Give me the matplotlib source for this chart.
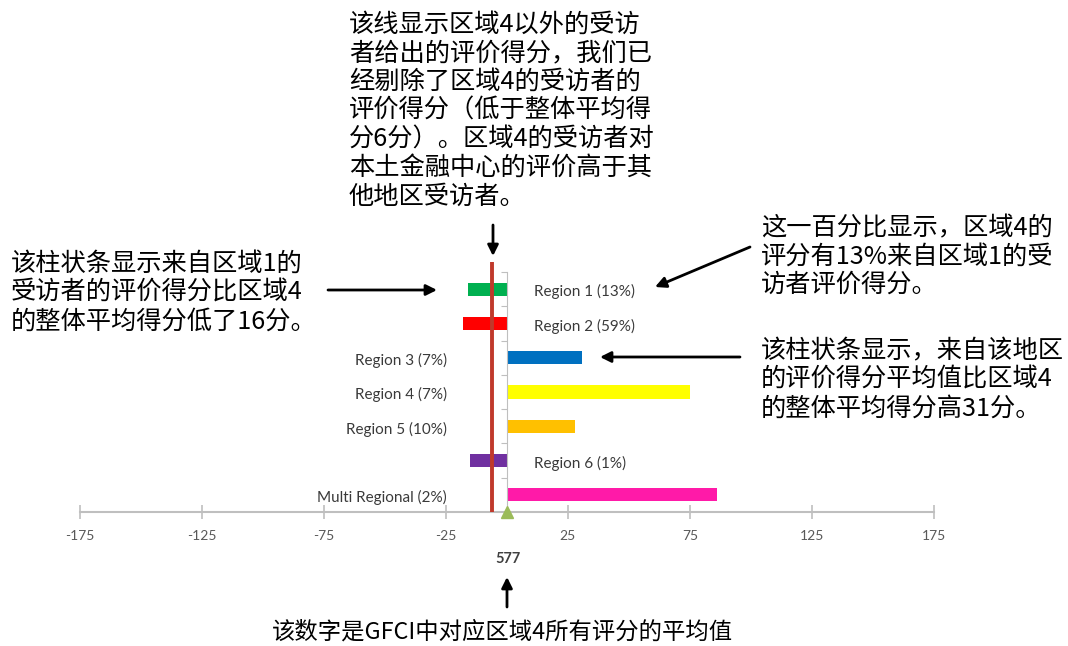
import matplotlib
matplotlib.use('Agg')
import matplotlib.pyplot as plt

# chart data
regions = ['Region 1 (13%)', 'Region 2 (59%)', 'Region 3 (7%)', 'Region 4 (7%)',
           'Region 5 (10%)', 'Region 6 (1%)', 'Multi Regional (2%)']
diffs = [-16, -18, 31, 75, 28, -15, 86]
bar_colors = ['#00B050', '#FF0000', '#0070C0', '#FFFF00', '#FFC000', '#7030A0', '#FF1AA8']
others_avg = -6
overall_score = 577
x_ticks = [-175, -125, -75, -25, 25, 75, 125, 175]

note_top = ('该线显示区域4以外的受访\n者给出的评价得分，我们已\n经剔除了区域4的受访者的\n'
            '评价得分（低于整体平均得\n分6分）。区域4的受访者对\n本土金融中心的评价高于其\n他地区受访者。')
note_left = '该柱状条显示来自区域1的\n受访者的评价得分比区域4\n的整体平均得分低了16分。'
note_right_top = '这一百分比显示，区域4的\n评分有13%来自区域1的受\n访者评价得分。'
note_right_mid = '该柱状条显示，来自该地区\n的评价得分平均值比区域4\n的整体平均得分高31分。'
note_bottom = '该数字是GFCI中对应区域4所有评分的平均值'

W, H = 1068, 646
plt.rcParams['font.family'] = ['Noto Sans CJK SC', 'DejaVu Sans']


def px(x, y):
    # top-left pixel -> figure fraction
    return x / W, 1 - y / H


fig = plt.figure(figsize=(W / 100, H / 100), dpi=100)
ax = fig.add_axes([79.5 / W, 134 / H, 854.5 / W, 240 / H])

ypos = list(range(len(regions)))
ax.barh(ypos, diffs, height=0.38, color=bar_colors, zorder=2)
ax.set_xlim(-175, 175)
ax.set_ylim(6.5, -0.5)

for y, lab, d in zip(ypos, regions, diffs):
    if d < 0:
        ax.text(11, y + 0.08, lab, ha='left', va='center', fontsize=11,
                family='Lato', color='#3A3A3A')
    else:
        ax.text(-24.5, y + 0.08, lab, ha='right', va='center', fontsize=11,
                family='Lato', color='#3A3A3A')

# line for average of other regions
ax.vlines(others_avg, -0.78, 6.5, color='#C0392B', lw=2.8, zorder=3, clip_on=False)
ax.plot([0], [6.5], marker='^', markersize=9, color='#9BBB59', clip_on=False, zorder=4)
ax.text(0.5, 7.86, str(overall_score), ha='center', va='center', fontsize=10.5,
        family='Lato', fontweight='bold', color='#404040')

for s in ['top', 'right']:
    ax.spines[s].set_visible(False)
ax.spines['left'].set_position(('data', 0))
ax.spines['left'].set_color('#BFBFBF')
ax.spines['bottom'].set_color('#BFBFBF')
ax.spines['bottom'].set_linewidth(1.5)
ax.set_xticks(x_ticks)
ax.set_xticklabels([str(t) for t in x_ticks], family='Lato', fontsize=10, color='#595959')
ax.tick_params(axis='x', direction='inout', length=10, width=1.2, color='#BFBFBF', pad=8)
ax.set_yticks([y - 0.5 for y in ypos])
ax.set_yticklabels([])
ax.tick_params(axis='y', direction='out', length=4, color='#BFBFBF')

# annotations
fs = 18.2
fig.text(*px(349, 12), note_top, ha='left', va='top', fontsize=fs, linespacing=1.13)
fig.text(*px(11, 251), note_left, ha='left', va='top', fontsize=fs, linespacing=1.13)
fig.text(*px(761, 215), note_right_top, ha='left', va='top', fontsize=fs, linespacing=1.11)
fig.text(*px(761, 338), note_right_mid, ha='left', va='top', fontsize=fs, linespacing=1.14)
fig.text(*px(272, 632), note_bottom, ha='left', va='center', fontsize=16.8)

arrow = dict(arrowstyle='-|>', lw=2, color='black', mutation_scale=16, shrinkA=0, shrinkB=0)
arrows = [((493, 225), (493, 256)),
          ((328, 290), (437, 290)),
          ((750, 247), (655, 287)),
          ((740, 357), (600, 357)),
          ((507, 607), (507, 577))]
for tail, head in arrows:
    fig.add_artist(matplotlib.patches.FancyArrowPatch(px(*tail), px(*head),
                                                      transform=fig.transFigure, **arrow))

fig.savefig('out.png', dpi=100)
